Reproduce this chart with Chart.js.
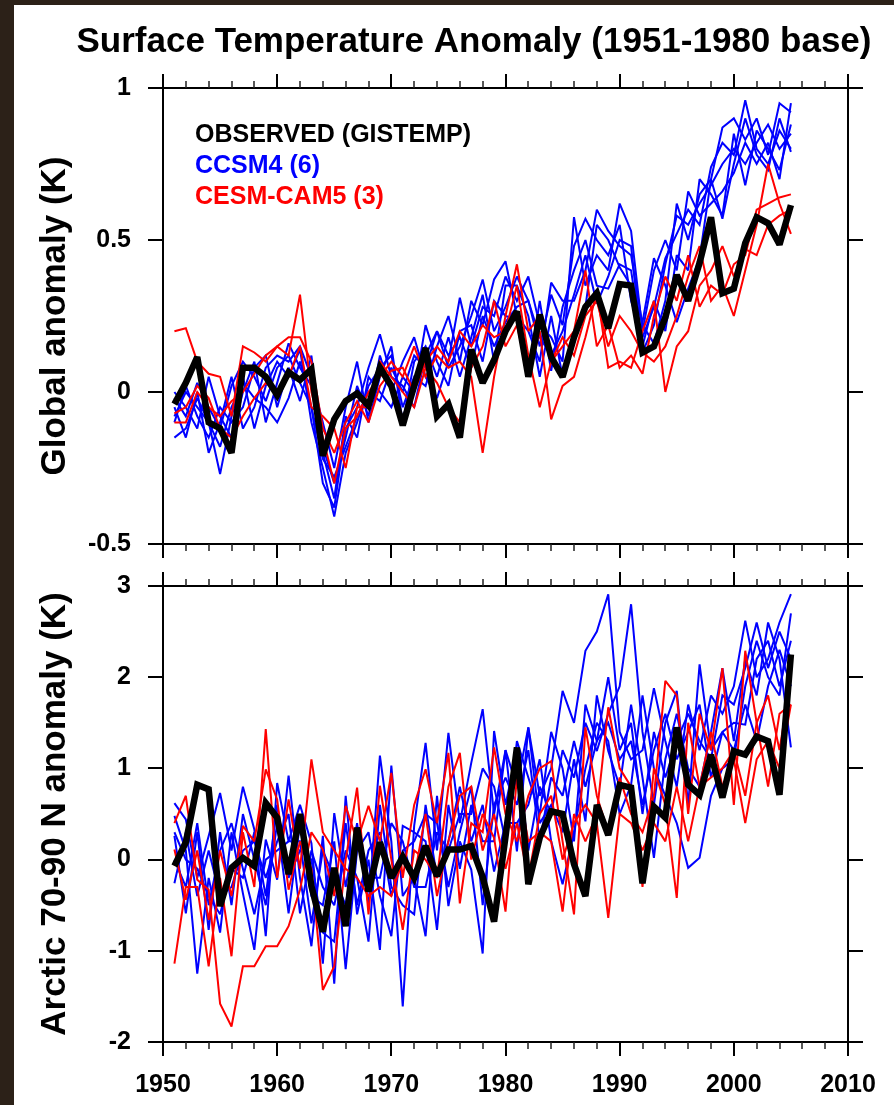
<!DOCTYPE html>
<html>
<head>
<meta charset="utf-8">
<script src="https://cdn.jsdelivr.net/npm/chart.js@4.4.1/dist/chart.umd.min.js"></script>
<style>
  html, body { margin: 0; padding: 0; background: #2c2118; overflow: hidden; width: 894px; height: 1105px; }
  #sheet { position: absolute; left: 14px; top: 5px; width: 880px; height: 1100px; background: #fff; }
  canvas { position: absolute; left: 0; }
  #topPanel { top: 0; }
  #bottomPanel { top: 565px; }
</style>
</head>
<body>
<div id="sheet"></div>
<canvas id="topPanel" width="894" height="565"></canvas>
<canvas id="bottomPanel" width="894" height="540"></canvas>
<script>
// Surface temperature anomaly, 1951-1980 base
var years = [1951, 1952, 1953, 1954, 1955, 1956, 1957, 1958, 1959, 1960,
  1961, 1962, 1963, 1964, 1965, 1966, 1967, 1968, 1969, 1970,
  1971, 1972, 1973, 1974, 1975, 1976, 1977, 1978, 1979, 1980,
  1981, 1982, 1983, 1984, 1985, 1986, 1987, 1988, 1989, 1990,
  1991, 1992, 1993, 1994, 1995, 1996, 1997, 1998, 1999, 2000,
  2001, 2002, 2003, 2004, 2005];

var xTickValues = [1950, 1960, 1970, 1980, 1990, 2000, 2010];
var xTickLabels = ["1950", "1960", "1970", "1980", "1990", "2000", "2010"];
var globalTickValues = [-0.5, 0, 0.5, 1];
var globalTickLabels = ["-0.5", "0", "0.5", "1"];
var arcticTickValues = [-2, -1, 0, 1, 2, 3];
var arcticTickLabels = ["-2", "-1", "0", "1", "2", "3"];

var chartTitle = "Surface Temperature Anomaly (1951-1980 base)";
var legendLabels = ["OBSERVED (GISTEMP)", "CCSM4 (6)", "CESM-CAM5 (3)"];
var globalTitle = "Global anomaly (K)";
var arcticTitle = "Arctic 70-90 N anomaly (K)";

// global mean, observed
var obsGlobal = [-0.04, 0.03, 0.115, -0.10, -0.12, -0.20, 0.08, 0.08, 0.05, -0.01,
  0.065, 0.04, 0.075, -0.21, -0.09, -0.03, -0.005, -0.045, 0.08, 0.02,
  -0.11, 0.02, 0.145, -0.08, -0.04, -0.15, 0.14, 0.03, 0.105, 0.20,
  0.265, 0.05, 0.255, 0.115, 0.05, 0.18, 0.28, 0.325, 0.21, 0.355,
  0.35, 0.13, 0.15, 0.245, 0.385, 0.30, 0.425, 0.575, 0.325, 0.34,
  0.49, 0.575, 0.555, 0.485, 0.615];

// global mean, CCSM4 members
var ccsm4Global = [
  [-0.02, -0.08, 0.03, -0.05, -0.12, 0.02, 0.10, 0.05, -0.03, 0.08,
   0.12, 0.03, -0.05, -0.30, -0.38, -0.12, -0.05, 0.08, 0.19, 0.05,
   0.02, -0.05, 0.12, 0.20, 0.08, 0.15, 0.25, 0.37, 0.20, 0.28,
   0.38, 0.30, 0.15, 0.32, 0.22, 0.48, 0.57, 0.50, 0.45, 0.55,
   0.30, 0.18, 0.28, 0.44, 0.52, 0.60, 0.55, 0.74, 0.82, 0.78,
   0.96, 0.80, 0.75, 0.86, 0.80],
  [-0.15, -0.12, -0.02, -0.10, -0.27, -0.08, 0.05, -0.12, 0.02, 0.10,
   0.05, 0.14, -0.10, -0.25, -0.41, -0.20, -0.10, 0.02, 0.08, 0.12,
   -0.05, 0.05, 0.02, 0.15, 0.25, 0.10, 0.30, 0.22, 0.37, 0.43,
   0.25, 0.20, 0.10, 0.36, 0.30, 0.30, 0.40, 0.60, 0.53, 0.48,
   0.45, 0.22, 0.16, 0.30, 0.62, 0.50, 0.65, 0.70, 0.87, 0.90,
   0.83, 0.90, 0.78, 0.95, 0.92],
  [0.00, -0.05, -0.12, 0.05, -0.08, -0.15, 0.00, 0.10, -0.10, 0.03,
   0.16, 0.08, 0.02, -0.18, -0.30, -0.15, 0.02, -0.08, 0.12, 0.00,
   0.10, 0.18, 0.05, -0.02, 0.10, 0.31, 0.15, 0.28, 0.25, 0.38,
   0.30, 0.38, 0.22, 0.18, 0.10, 0.575, 0.35, 0.45, 0.40, 0.62,
   0.53, 0.20, 0.40, 0.50, 0.40, 0.66, 0.58, 0.62, 0.66, 0.72,
   0.82, 0.75, 0.82, 0.70, 0.95],
  [-0.10, 0.02, -0.08, -0.15, -0.05, -0.10, -0.05, 0.08, 0.12, -0.05,
   0.08, -0.03, 0.12, -0.20, -0.35, -0.08, -0.15, 0.05, 0.00, -0.05,
   0.05, 0.00, 0.22, 0.10, 0.02, 0.20, 0.22, 0.10, 0.30, 0.25,
   0.24, 0.05, 0.30, 0.07, 0.28, 0.40, 0.50, 0.35, 0.34, 0.42,
   0.40, 0.15, 0.30, 0.20, 0.45, 0.40, 0.70, 0.65, 0.58, 0.85,
   0.68, 0.86, 0.80, 0.73, 0.88],
  [-0.05, -0.15, 0.00, -0.20, -0.10, 0.05, -0.12, -0.05, 0.08, 0.12,
   0.10, 0.15, 0.05, -0.10, -0.25, -0.05, 0.10, -0.10, 0.05, 0.15,
   -0.10, 0.10, 0.15, 0.05, 0.18, 0.05, 0.18, 0.32, 0.10, 0.35,
   0.35, 0.25, 0.05, 0.25, 0.05, 0.17, 0.28, 0.55, 0.50, 0.41,
   0.35, 0.23, 0.44, 0.35, 0.23, 0.34, 0.44, 0.70, 0.57, 0.75,
   0.90, 0.78, 0.73, 0.90, 0.79],
  [-0.08, 0.00, -0.05, -0.10, -0.18, -0.05, 0.03, -0.02, -0.05, -0.10,
   -0.02, 0.10, -0.05, -0.22, -0.28, -0.18, -0.08, 0.00, -0.03, 0.08,
   0.00, 0.12, 0.08, 0.20, 0.12, 0.18, 0.08, 0.25, 0.15, 0.23,
   0.28, 0.30, 0.18, 0.12, 0.20, 0.32, 0.45, 0.29, 0.38, 0.50,
   0.48, 0.13, 0.22, 0.42, 0.58, 0.55, 0.62, 0.68, 0.75, 0.80,
   0.75, 0.82, 0.88, 0.80, 0.85]
];

// global mean, CESM-CAM5 members
var cesmGlobal = [
  [0.20, 0.21, 0.10, 0.06, 0.05, -0.08, 0.15, 0.13, 0.10, 0.15,
   0.12, 0.32, 0.00, -0.15, -0.30, -0.12, -0.08, 0.00, 0.05, 0.10,
   0.05, 0.15, 0.05, 0.12, 0.08, 0.10, 0.05, -0.20, 0.05, 0.25,
   0.42, 0.20, 0.25, 0.10, 0.15, 0.20, 0.40, 0.15, 0.22, 0.08,
   0.12, 0.06, 0.25, 0.38, 0.30, 0.45, 0.28, 0.35, 0.32, 0.42,
   0.45, 0.60, 0.62, 0.64, 0.65],
  [-0.10, -0.10, 0.00, -0.05, -0.08, -0.03, 0.00, 0.06, 0.12, 0.15,
   0.18, 0.18, 0.10, -0.12, -0.20, -0.10, -0.03, -0.10, 0.02, 0.07,
   0.08, 0.00, 0.10, 0.15, 0.10, 0.20, 0.15, 0.22, 0.18, 0.20,
   0.35, 0.12, -0.05, 0.10, 0.18, 0.12, 0.25, 0.30, 0.15, 0.25,
   0.20, 0.13, 0.10, 0.15, 0.25, 0.38, 0.48, 0.30, 0.35, 0.25,
   0.40, 0.55, 0.75, 0.62, 0.52],
  [-0.07, -0.05, 0.02, -0.02, -0.12, -0.15, -0.08, -0.02, 0.03, 0.00,
   0.05, 0.15, -0.05, -0.08, -0.12, -0.25, -0.05, -0.05, 0.10, 0.05,
   0.00, -0.05, 0.08, 0.03, -0.05, -0.10, 0.08, 0.15, 0.30, 0.15,
   0.22, 0.05, 0.20, -0.09, 0.02, 0.05, 0.18, 0.33, 0.08, 0.10,
   0.08, 0.20, 0.30, 0.00, 0.15, 0.20, 0.35, 0.40, 0.48, 0.38,
   0.47, 0.45, 0.55, 0.58, 0.60]
];

// Arctic 70-90N, observed
var obsArctic = [-0.07, 0.19, 0.82, 0.77, -0.51, -0.09, 0.02, -0.07, 0.62, 0.46,
  -0.16, 0.50, -0.29, -0.79, -0.09, -0.73, 0.35, -0.35, 0.19, -0.20,
  0.03, -0.20, 0.15, -0.18, 0.11, 0.11, 0.15, -0.19, -0.68, 0.25,
  1.23, -0.27, 0.24, 0.53, 0.50, -0.05, -0.40, 0.60, 0.27, 0.82,
  0.79, -0.26, 0.58, 0.46, 1.45, 0.82, 0.71, 1.15, 0.68, 1.19,
  1.15, 1.35, 1.30, 0.71, 2.25];

// Arctic 70-90N, CCSM4 members
var ccsm4Arctic = [
  [0.62, 0.44, -0.20, 0.26, 0.73, 0.10, 0.80, 0.33, -0.84, 0.84,
   0.20, 0.60, 0.18, -1.14, 0.51, -0.30, 0.40, -0.50, 1.14, 0.20,
   -1.61, 0.37, 1.28, 0.10, 1.39, 0.40, 1.06, 1.65, 0.50, 1.20,
   0.80, 1.45, 0.70, 1.00, 1.85, 1.50, 2.29, 2.50, 2.91, 1.40,
   1.10, 1.20, 1.88, 1.30, 0.80, 1.70, 1.20, 1.80, 1.60, 1.90,
   2.62, 2.00, 2.20, 2.60, 2.91],
  [0.48, 0.10, -1.25, -0.20, -0.80, 0.30, -0.37, -0.99, 0.22, -0.22,
   0.92, -0.20, -0.95, 0.26, -1.36, 0.70, -0.60, 0.00, -0.99, 1.03,
   -0.40, -0.20, -0.84, 0.70, -0.51, 0.20, -0.11, -1.03, 1.41, 0.60,
   1.20, 0.10, 0.80, 0.50, 1.20, 0.90, 1.50, 1.19, 1.60, 1.90,
   2.80, 1.40, 0.60, 1.50, 1.85, 0.60, 2.14, 1.20, 1.40, 1.50,
   1.48, 2.20, 2.40, 1.90, 2.40],
  [0.26, -0.59, 0.30, -0.77, 0.30, -0.50, 0.50, 0.00, -0.50, 0.40,
   -0.59, 0.40, -0.40, -0.50, 0.20, -1.20, 0.10, 0.30, -0.40, -0.84,
   0.37, 0.30, 0.20, -0.77, 0.60, -0.10, 0.60, 0.20, 0.20, 1.20,
   0.09, 1.45, 0.40, 0.60, 0.30, 1.10, 0.42, 1.80, 1.19, 0.80,
   1.70, 0.90, 0.02, 1.10, 1.60, 1.00, 0.80, 1.40, 2.10, 1.30,
   2.20, 1.80, 2.60, 2.20, 1.23],
  [-0.26, 0.30, -0.40, 0.10, -0.40, -0.30, 0.10, 0.20, -0.20, 0.20,
   0.50, -0.59, 0.10, -0.30, -0.50, 0.10, -0.20, -0.90, 0.60, -0.30,
   -0.50, -0.60, 0.60, -0.20, 0.20, 0.80, 0.20, 0.60, -0.13, 0.40,
   0.40, 0.60, 1.10, 0.20, -0.27, 0.30, 1.00, 1.50, 1.30, 0.50,
   0.82, 1.80, 1.00, 0.70, 0.40, -0.09, 0.02, 0.70, 1.00, 1.10,
   1.90, 2.40, 2.00, 1.80, 2.70],
  [0.00, -0.30, 0.40, -0.50, 0.10, 0.40, -0.10, -0.60, 0.00, 0.10,
   0.20, 0.20, -0.70, 0.10, -0.20, -0.50, 0.30, -0.20, -0.20, 0.40,
   0.20, -0.30, -0.30, 0.30, 0.10, 0.50, 0.50, 1.00, 0.80, 0.20,
   1.30, 0.90, 0.50, 1.40, 1.00, 0.20, 1.70, 1.30, 1.50, 1.10,
   1.30, 0.60, 1.20, 1.60, 1.10, 1.40, 1.70, 0.90, 1.40, 1.20,
   1.70, 1.30, 1.90, 2.30, 1.90],
  [0.30, 0.00, -0.10, -0.40, -0.60, -0.10, -0.20, 0.30, -0.40, 0.60,
   -0.20, 0.10, 0.00, -0.80, -0.90, 0.40, -0.50, 0.10, 0.30, -0.40,
   0.10, 0.20, 0.50, 0.40, -0.30, 0.30, 0.80, -0.50, 0.60, 0.90,
   0.60, 1.20, 0.20, 0.90, 0.70, 1.30, 0.80, 1.30, 2.00, 1.20,
   1.50, 0.50, 1.40, 0.90, 1.30, 1.60, 1.30, 1.10, 1.80, 1.70,
   2.10, 2.60, 2.10, 2.50, 2.20]
];

// Arctic 70-90N, CESM-CAM5 members
var cesmArctic = [
  [0.40, 0.70, -0.22, -0.33, -1.58, -1.83, -1.17, -1.17, -0.95, -0.95,
   -0.73, -0.33, 0.30, 0.11, -0.40, 0.59, 0.20, 0.59, 0.20, 0.95,
   -0.20, 0.60, 0.99, 0.40, 1.17, -0.48, 0.40, 0.30, 1.23, 0.50,
   0.20, 0.70, 1.00, 1.08, 0.20, -0.60, 1.45, 0.70, 0.30, 0.90,
   0.50, 0.30, 0.70, 1.96, 1.80, 0.50, 1.60, 1.20, 2.10, 0.60,
   2.29, 1.50, 0.80, 1.60, 1.70],
  [0.11, -0.44, 0.10, -0.66, 0.10, -0.40, 0.37, 0.20, 0.99, 0.66,
   -0.33, 0.20, -0.10, -1.43, -1.17, 0.00, 0.79, -0.60, 0.81, 0.00,
   -0.77, 0.10, 0.00, -0.20, 0.80, 1.17, 0.00, 0.50, 0.24, -0.57,
   0.90, 0.20, 0.30, 0.20, -0.57, 0.50, 0.20, 0.50, 1.67, 1.00,
   0.80, -0.30, 1.00, 0.60, -0.42, 1.50, 0.80, 0.90, 1.00, 1.20,
   0.70, 1.50, 1.80, 1.20, 2.00],
  [-1.14, -0.30, -0.30, -1.17, -0.20, -1.06, 0.30, -0.30, 1.43, -0.20,
   0.66, -0.10, 1.10, 0.30, 0.10, -0.10, -0.20, -0.40, -0.30, -0.40,
   0.00, -0.20, 0.50, -0.40, 0.20, 0.70, 0.80, 0.10, 0.50, -0.10,
   0.40, -0.20, 0.50, 0.70, 0.00, 0.40, 0.60, 0.40, -0.64, 0.50,
   0.40, 0.10, 0.40, 0.20, 0.80, 0.20, 0.80, 1.40, 0.80, 1.10,
   0.40, 1.10, 1.30, 1.00, 1.70]
];

var fontFamily = '"Liberation Sans", Arial, Helvetica, sans-serif';
Chart.defaults.font.family = fontFamily;
Chart.defaults.color = '#000';

function buildDatasets(obs, ccsm, cesm) {
    // first dataset is drawn on top
    var sets = [{
        label: legendLabels[0],
        data: obs,
        borderColor: '#000000',
        borderWidth: 6.5
    }];
    cesm.forEach(function (run) {
        sets.push({ label: legendLabels[2], data: run, borderColor: '#ff0000', borderWidth: 2 });
    });
    ccsm.forEach(function (run) {
        sets.push({ label: legendLabels[1], data: run, borderColor: '#0000ff', borderWidth: 2 });
    });
    return sets;
}

// keep the thick line's corners from spiking out too far
var miterFix = {
    id: 'miterFix',
    beforeDatasetsDraw: function (chart) { chart.ctx.save(); chart.ctx.miterLimit = 2.5; },
    afterDatasetsDraw: function (chart) { chart.ctx.restore(); }
};

// 2-year minor ticks on the top and bottom edges
var minorTicks = {
    id: 'minorTicks',
    afterDraw: function (chart) {
        var ctx = chart.ctx, area = chart.chartArea, x = chart.scales.x;
        ctx.save();
        ctx.strokeStyle = '#222';
        ctx.lineWidth = 1.5;
        ctx.beginPath();
        for (var yr = x.min; yr <= x.max; yr += 2) {
            if (yr % 10 === 0) continue;
            var px = Math.round(x.getPixelForValue(yr));
            ctx.moveTo(px, area.top);
            ctx.lineTo(px, area.top - 7);
            ctx.moveTo(px, area.bottom);
            ctx.lineTo(px, area.bottom + 7);
        }
        ctx.stroke();
        ctx.restore();
    }
};

// main title and the text legend inside the upper panel
var headerText = {
    id: 'headerText',
    afterDraw: function (chart) {
        var ctx = chart.ctx, area = chart.chartArea;
        var colors = ['#000000', '#0000ff', '#ff0000'];
        ctx.save();
        ctx.fillStyle = '#000';
        ctx.textAlign = 'center';
        ctx.textBaseline = 'alphabetic';
        ctx.font = 'bold 35px ' + fontFamily;
        ctx.fillText(chartTitle, 474, 52);
        ctx.textAlign = 'left';
        ctx.font = 'bold 25px ' + fontFamily;
        legendLabels.forEach(function (t, i) {
            ctx.fillStyle = colors[i];
            ctx.fillText(t, area.left + 32, area.top + 54 + i * 31);
        });
        ctx.restore();
    }
};

function axisGrid(len) {
    return { drawOnChartArea: false, drawTicks: true, tickLength: len, color: '#000', lineWidth: 2 };
}
var axisBorder = { display: true, color: '#000', width: 2 };
var tickFont = { size: 25, weight: 'bold' };

function fixSize(prop, size) {
    return function (s) {
        s[prop] = size;
        s.paddingTop = 0; s.paddingBottom = 0; s.paddingLeft = 0; s.paddingRight = 0;
    };
}

function makePanel(canvasId, opts) {
    return new Chart(document.getElementById(canvasId), {
        type: 'line',
        data: {
            labels: years,
            datasets: buildDatasets(opts.obs, opts.ccsm, opts.cesm)
        },
        options: {
            responsive: false,
            animation: false,
            events: [],
            layout: { padding: { top: opts.padTop, left: 0, right: 0, bottom: 0 } },
            elements: { point: { radius: 0 }, line: { tension: 0 } },
            plugins: { legend: { display: false }, title: { display: false }, tooltip: { enabled: false } },
            scales: {
                x: {
                    type: 'linear', position: 'bottom', min: 1950, max: 2010,
                    afterFit: fixSize('height', opts.xHeight),
                    grid: axisGrid(14), border: axisBorder,
                    ticks: {
                        display: opts.showYears, stepSize: 10, padding: 14, maxRotation: 0, autoSkip: false,
                        font: tickFont, color: '#000',
                        callback: function (v) { return xTickLabels[xTickValues.indexOf(v)]; }
                    }
                },
                xTop: {
                    type: 'linear', position: 'top', min: 1950, max: 2010,
                    afterFit: fixSize('height', 14),
                    grid: axisGrid(14), border: axisBorder,
                    ticks: { display: false, stepSize: 10 }
                },
                y: {
                    type: 'linear', position: 'left', min: opts.yMin, max: opts.yMax,
                    afterFit: fixSize('width', 163),
                    grid: axisGrid(15), border: axisBorder,
                    ticks: {
                        stepSize: opts.yStep, padding: 17, font: tickFont, color: '#000',
                        callback: function (v) {
                            var i = opts.yTickValues.findIndex(function (t) { return Math.abs(t - v) < 1e-9; });
                            return i < 0 ? '' : opts.yTickLabels[i];
                        }
                    },
                    title: {
                        display: true, text: opts.yTitle, color: '#000',
                        font: { size: 35, weight: 'bold', lineHeight: 1 },
                        padding: { top: 38, bottom: 0 }
                    }
                },
                yRight: {
                    type: 'linear', position: 'right', min: opts.yMin, max: opts.yMax,
                    afterFit: fixSize('width', 46),
                    grid: axisGrid(15), border: axisBorder,
                    ticks: { display: false, stepSize: opts.yStep }
                }
            }
        },
        plugins: opts.plugins
    });
}

makePanel('topPanel', {
    obs: obsGlobal, ccsm: ccsm4Global, cesm: cesmGlobal,
    yMin: -0.5, yMax: 1, yStep: 0.5, yTitle: globalTitle,
    yTickValues: globalTickValues, yTickLabels: globalTickLabels,
    padTop: 74, xHeight: 21, showYears: false,
    plugins: [miterFix, minorTicks, headerText]
});

makePanel('bottomPanel', {
    obs: obsArctic, ccsm: ccsm4Arctic, cesm: cesmArctic,
    yMin: -2, yMax: 3, yStep: 1, yTitle: arcticTitle,
    yTickValues: arcticTickValues, yTickLabels: arcticTickLabels,
    padTop: 7, xHeight: 63, showYears: true,
    plugins: [miterFix, minorTicks]
});
</script>
</body>
</html>
